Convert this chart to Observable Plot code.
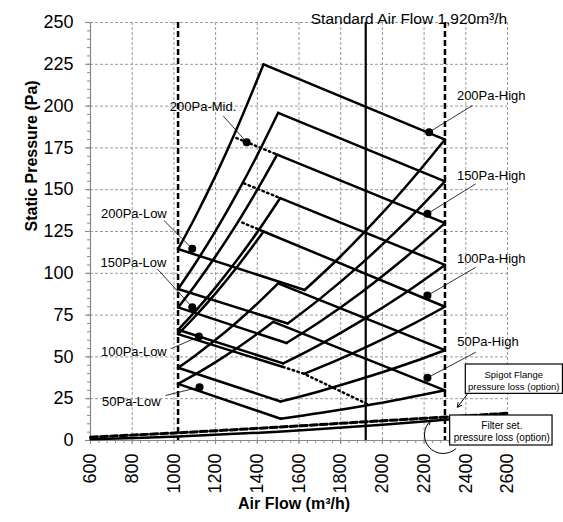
<!DOCTYPE html>
<html><head><meta charset="utf-8">
<script src="https://cdn.jsdelivr.net/npm/d3@7"></script>
<script src="https://cdn.jsdelivr.net/npm/@observablehq/plot@0.6"></script>
<style>body{margin:0;background:#fff;}</style>
</head><body><div id="chart"></div>
<script>
// ---- ticks ----
const xTicks = [600,800,1000,1200,1400,1600,1800,2000,2200,2400,2600];
const yTicks = [0,25,50,75,100,125,150,175,200,225,250];

// ---- rising system curves: 1020 m3/h -> peak ----
const leftCurves = [
  ["L200",[1020,114.5],[1100,133.1],[1200,158.4],[1300,186],[1430,225]],
  ["L175",[1020,90.6],[1100,105.4],[1200,125.4],[1300,147.2],[1400,170.7],[1500,196]],
  ["L150",[1020,79.6],[1100,92.6],[1200,110.2],[1300,129.3],[1400,150],[1495,171]],
  ["L125",[1020,66.2],[1100,76.9],[1200,91.6],[1300,107.5],[1400,124.6],[1510,145]],
  ["L100",[1020,63.6],[1100,74],[1200,88],[1300,103.3],[1430,125]],
  ["L75",[1020,43.5],[1100,50.6],[1200,60.2],[1300,70.6],[1400,81.9],[1500,94]],
  ["L50",[1020,33.9],[1100,39.4],[1200,46.9],[1300,55],[1400,63.8],[1477,71]]
];
// ---- fan lines: peak -> 2300 m3/h ----
const topLines = [
  ["T200",[1430,225],[2300,180]],
  ["T175",[1500,196],[2300,155]],
  ["T150",[1495,171],[2300,130]],
  ["T125",[1510,145],[2300,105]],
  ["T100",[1430,125],[2300,80]],
  ["T75",[1500,94],[2300,54]],
  ["T50",[1477,71],[2300,30]]
];
// ---- rising system curves: bottom vertex -> 2300 m3/h ----
const rightCurves = [
  ["R180",[1627,90],[1800,110.2],[2000,136.1],[2150,157.3],[2300,180]],
  ["R155",[1546,70],[1700,84.7],[1900,105.8],[2100,129.2],[2300,155]],
  ["R130",[1540,58.3],[1700,71],[1900,88.7],[2100,108.4],[2300,130]],
  ["R105",[1524,46.1],[1700,57.4],[1900,71.7],[2100,87.5],[2300,105]],
  ["R80",[1624,39.9],[1800,49],[2000,60.5],[2150,69.9],[2300,80]],
  ["R54",[1512,23.3],[1700,29.5],[1900,36.9],[2100,45],[2300,54]],
  ["R30",[1512,13],[1700,16.4],[1900,20.5],[2100,25],[2300,30]]
];
// ---- fan lines: 1020 m3/h -> bottom vertex ----
const bottomLines = [
  ["B200",[1020,114.5],[1627,90]],
  ["B175",[1020,90.6],[1546,70]],
  ["B150",[1020,79.6],[1540,58.3]],
  ["B125",[1020,66.2],[1524,46.1]],
  ["B100",[1020,63.6],[1524,44]],
  ["B75",[1020,43.5],[1512,23.3]],
  ["B50",[1020,33.9],[1512,13]]
];
// ---- dotted extensions ----
const dottedLines = [
  ["D150",[1300,180.9],[1495,171]],
  ["D125",[1336,153.8],[1510,145]],
  ["D100",[1328,130.3],[1430,125]],
  ["DLow",[1524,44],[1624,39.9],[1936,21.3]]
];
// ---- option pressure losses ----
const filterLoss = [[600,0.8],[1020,2.4],[1500,5.3],[2000,9.4],[2330,12.7]];
const spigotLoss = [[600,2],[1020,4.6],[1500,8],[2000,11.8],[2300,14],[2600,16.3]];

// ---- reference flows ----
const limitFlows = [1020, 2300];
const standardFlow = [1920];

// ---- labelled operating points ----
const pointNames = ["200Pa-Mid.","200Pa-Low","150Pa-Low","100Pa-Low","50Pa-Low","200Pa-High","150Pa-High","100Pa-High","50Pa-High"];
const pointX = [1349,1088,1088,1120,1123,2224,2216,2216,2216];
const pointY = [178.4,114.7,79.7,62.2,31.9,184.4,135.6,86.7,37.5];
// label anchor (text centre) and leader start
const labelX = [1140,808,806,808,796,2522,2522,2522,2506];
const labelY = [199.3,135.6,106.5,52.8,22.9,205.9,158.1,108.5,58.8];
const leaderX = [1237,952,920,984,960,2432,2448,2448,2448];
const leaderY = [194,131.6,102.7,54.8,26.9,200.4,153.5,103.6,52.8];

// ---- annotation boxes ----
const spigotBox = {t: "Spigot Flange\npressure loss (option)", x1: 2400, x2: 2866, y1: 27.9, y2: 45.45, tx: 2630, ty: 36.2};
const filterBox = {t: "Filter set.\npressure loss (option)", x1: 2325, x2: 2816, y1: -3, y2: 14.95, tx: 2573, ty: 5.5};

function rows(arr) {
  return arr.flatMap(([s, ...pts]) => pts.map(([x, y]) => ({s, x, y})));
}
const pts = (arr) => arr.map(([x, y]) => ({x, y}));

const markers = pointNames.map((label, i) => ({
  label, x: pointX[i], y: pointY[i], tx: labelX[i], ty: labelY[i], lx: leaderX[i], ly: leaderY[i]
}));

const minorX = d3.range(600, 2601, 40);
const minorY = d3.range(0, 251, 5);

const lineOpts = {x: "x", y: "y", z: "s", stroke: "black", strokeWidth: 2.5, strokeLinecap: "round", strokeLinejoin: "round"};
const boxOpts = {x1: "x1", x2: "x2", y1: "y1", y2: "y2", fill: "white", stroke: "black", strokeWidth: 1.2};

const plot = Plot.plot({
  width: 563,
  height: 522,
  marginLeft: 90,
  marginRight: 56,
  marginTop: 22,
  marginBottom: 82,
  x: {domain: [600, 2600]},
  y: {domain: [0, 250]},
  style: {fontFamily: "'Liberation Sans', Arial, sans-serif", background: "white", color: "black"},
  marks: [
    Plot.gridX(xTicks.slice(1), {stroke: "#9a9a9a", strokeOpacity: 1, strokeWidth: 1, strokeDasharray: "3,2"}),
    Plot.gridY(yTicks.slice(1), {stroke: "#9a9a9a", strokeOpacity: 1, strokeWidth: 1, strokeDasharray: "3,2"}),
    Plot.axisY(minorY, {tickSize: 3, tickFormat: () => "", label: null, stroke: "#888"}),
    Plot.axisX(minorX, {tickSize: 3, tickFormat: () => "", label: null, stroke: "#888"}),
    Plot.axisY(yTicks, {tickSize: 5, tickPadding: 12, fontSize: 18, label: null, stroke: "#888", fill: "black", tickFormat: (d) => String(d)}),
    Plot.axisX(xTicks, {tickSize: 4, tickPadding: 9, tickRotate: -90, fontSize: 18, label: null, stroke: "#888", fill: "black", tickFormat: (d) => String(d)}),
    Plot.ruleX([600], {stroke: "#888", strokeWidth: 1.2}),
    Plot.ruleY([0], {stroke: "#888", strokeWidth: 1.2}),
    Plot.ruleX(limitFlows, {stroke: "black", strokeWidth: 2.5, strokeDasharray: "6,3"}),
    Plot.ruleX(standardFlow, {stroke: "black", strokeWidth: 2.2}),
    Plot.line(rows(leftCurves), {...lineOpts, curve: "catmull-rom"}),
    Plot.line(rows(topLines), lineOpts),
    Plot.line(rows(rightCurves), {...lineOpts, curve: "catmull-rom"}),
    Plot.line(rows(bottomLines), lineOpts),
    Plot.line(rows(dottedLines), {x: "x", y: "y", z: "s", stroke: "black", strokeWidth: 2.5, strokeDasharray: "1.5,3.5"}),
    Plot.line(pts(filterLoss), {x: "x", y: "y", stroke: "black", strokeWidth: 2.5, curve: "catmull-rom"}),
    Plot.line(pts(spigotLoss), {x: "x", y: "y", stroke: "black", strokeWidth: 3, strokeDasharray: "7,3", curve: "catmull-rom"}),
    Plot.link(markers, {x1: "lx", y1: "ly", x2: "x", y2: "y", stroke: "black", strokeWidth: 0.8}),
    Plot.dot(markers, {x: "x", y: "y", r: 4, fill: "black", stroke: null}),
    Plot.text(markers, {x: "tx", y: "ty", text: "label", fontSize: 13, fill: "black"}),
    Plot.rect([spigotBox], boxOpts),
    Plot.text([spigotBox], {x: "tx", y: "ty", text: "t", fontSize: 9.5, lineHeight: 1.35, fill: "black"}),
    Plot.rect([filterBox], boxOpts),
    Plot.text([filterBox], {x: "tx", y: "ty", text: "t", fontSize: 10, lineHeight: 1.2, fill: "black"}),
    Plot.arrow([{x1: 2408, y1: 27.9, x2: 2360, y2: 19.9}], {x1: "x1", y1: "y1", x2: "x2", y2: "y2", stroke: "black", strokeWidth: 1, headLength: 7}),
    Plot.arrow([{x1: 2352, y1: -5, x2: 2232, y2: 12}], {x1: "x1", y1: "y1", x2: "x2", y2: "y2", bend: 130, stroke: "black", strokeWidth: 1, headLength: 7}),
    Plot.text(["Standard Air Flow 1,920m³/h"], {frameAnchor: "top", dx: 110, dy: -10, fontSize: 15.5, fill: "black"}),
    Plot.text(["Static Pressure (Pa)"], {frameAnchor: "left", dx: -59, rotate: -90, fontSize: 16, fontWeight: "bold", fill: "black"}),
    Plot.text(["Air Flow (m³/h)"], {frameAnchor: "bottom", dx: -5, dy: 68, fontSize: 16, fontWeight: "bold", fill: "black"})
  ]
});
document.getElementById("chart").appendChild(plot);
</script>
</body></html>
